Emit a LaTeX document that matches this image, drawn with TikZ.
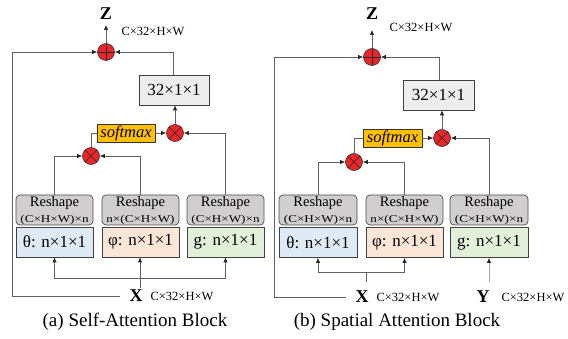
\documentclass[tikz,border=0pt]{standalone}
\usepackage{fontspec}
\setmainfont{Liberation Serif}
\usetikzlibrary{arrows.meta}
\definecolor{cred}{HTML}{E8262A}
\definecolor{csmx}{HTML}{FFC000}
\definecolor{cth}{HTML}{DEEBF7}
\definecolor{cph}{HTML}{FBE5D6}
\definecolor{cg}{HTML}{E2F0D9}
\definecolor{crs}{HTML}{D0CECE}
\definecolor{cbx}{HTML}{EDEDED}
\tikzset{
  ln/.style={draw=black!62, line width=0.7pt},
  arr/.style={ln, -{Latex[length=5pt,width=4.5pt,color=black!85]}},
  opc/.style={circle, draw=black!80, fill=cred, minimum size=17pt, inner sep=0pt, line width=0.6pt},
  plusop/.style={opc, path picture={\draw[black!85,line width=0.6pt] (path picture bounding box.north)--(path picture bounding box.south) (path picture bounding box.west)--(path picture bounding box.east);}},
  timesop/.style={opc, path picture={\draw[black!85,line width=0.6pt] (path picture bounding box.north west)--(path picture bounding box.south east) (path picture bounding box.south west)--(path picture bounding box.north east);}},
  bxbox/.style={draw=black!75, fill=cbx, minimum width=70pt, minimum height=30pt, inner sep=0pt, line width=0.7pt, font=\fontsize{17}{17}\selectfont},
  smxbox/.style={draw=black!80, fill=csmx, minimum width=58pt, minimum height=18pt, inner sep=0pt, line width=0.6pt, font=\fontsize{16.5}{16.5}\selectfont\itshape},
  rsbox/.style={draw=black!70, fill=crs, rounded corners=4pt, minimum width=77pt, minimum height=30pt, inner sep=0pt, line width=0.7pt},
  rstop/.style={inner sep=0pt, font=\fontsize{14.5}{14.5}\selectfont},
  rssub/.style={inner sep=0pt, font=\fontsize{10.5}{10.5}\selectfont},
  lowbox/.style={draw=black!75, minimum width=77pt, minimum height=30pt, inner sep=0pt, line width=0.7pt, font=\fontsize{17}{17}\selectfont},
  varlbl/.style={inner sep=1pt, font=\fontsize{18}{18}\selectfont\bfseries},
  dimlbl/.style={inner sep=0pt, font=\fontsize{12.5}{13}\selectfont},
  caplbl/.style={inner sep=0pt, font=\fontsize{19}{19}\selectfont}
}
\newcommand{\subA}{\scalebox{1.25}[1]{(C×H×W)×n}}
\newcommand{\subB}{\scalebox{1.25}[1]{n×(C×H×W)}}
\begin{document}
\begin{tikzpicture}[x=1pt,y=-1pt]
\useasboundingbox (0,0) rectangle (568,339);
% ================= panel (a) =================
\node[varlbl] (Za) at (106,14) {Z};
\node[dimlbl] (dZa) at (153,31) {C×32×H×W};
\node[plusop] (pa) at (106,52) {};
\node[bxbox] (ba) at (174,90) {32×1×1};
\node[smxbox] (sa) at (126,133) {softmax};
\node[timesop] (c2a) at (175,133) {};
\node[timesop] (c1a) at (91,156) {};
\node[rsbox] (r1a) at (54.5,210) {};
\node[rsbox] (r2a) at (140.5,210) {};
\node[rsbox] (r3a) at (225.5,210) {};
\node[rstop] (r1at) at (54.5,203.5) {Reshape};
\node[rstop] (r2at) at (140.5,203.5) {Reshape};
\node[rstop] (r3at) at (225.5,203.5) {Reshape};
\node[rssub] (r1as) at (54.5,219.5) {\subA};
\node[rssub] (r2as) at (140.5,219.5) {\subB};
\node[rssub] (r3as) at (225.5,219.5) {\subA};
\node[lowbox, fill=cth] (t1a) at (54.5,242) {θ: n×1×1};
\node[lowbox, fill=cph] (t2a) at (140.5,242) {φ: n×1×1};
\node[lowbox, fill=cg] (t3a) at (225.5,242) {g: n×1×1};
\node[varlbl] (Xa) at (136,296) {X};
\node[dimlbl] (dXa) at (182,296) {C×32×H×W};
\node[caplbl] (capa) at (135,322) {(a) Self-Attention Block};
\coordinate (zta) at (106,25);
\coordinate (fba) at (12,296);
\coordinate (fea) at (120,296);
\coordinate (hba) at (140,278);
\coordinate (vxa) at (140,288);
\draw[arr] (pa.north) -- (zta);
\draw[arr] (ba.north -| 173,0) |- (pa.east);
\draw[arr] (fea) -- (fba) |- (pa.west);
\draw[arr] (c2a.north) -- (c2a.north |- ba.south);
\draw[arr] (sa.east) -- (c2a.west);
\draw[ln] (sa.west) -| (c1a.north);
\draw[arr] (r1a.north) |- (c1a.west);
\draw[arr] (r2a.north) |- (c1a.east);
\draw[arr] (r3a.north) |- (c2a.east);
\draw[arr] (hba) -| (t1a.south);
\draw[arr] (hba) -| (t3a.south);
\draw[arr] (vxa) -- (vxa |- t2a.south);
% ================= panel (b) =================
\node[varlbl] (Zb) at (372,14) {Z};
\node[dimlbl] (dZb) at (421,27) {C×32×H×W};
\node[plusop] (pb) at (372,57) {};
\node[bxbox, minimum width=71pt] (bb) at (438.5,95) {32×1×1};
\node[smxbox, minimum width=59pt] (sb) at (392.5,138) {softmax};
\node[timesop] (c2b) at (442,138) {};
\node[timesop] (c1b) at (354,162) {};
\node[rsbox, minimum width=78pt] (r1b) at (318,210) {};
\node[rsbox] (r2b) at (404.5,210) {};
\node[rsbox, minimum width=78pt] (r3b) at (489,210) {};
\node[rstop] (r1bt) at (318,203.5) {Reshape};
\node[rstop] (r2bt) at (404.5,203.5) {Reshape};
\node[rstop] (r3bt) at (489,203.5) {Reshape};
\node[rssub] (r1bs) at (318,219.5) {\subA};
\node[rssub] (r2bs) at (404.5,219.5) {\subB};
\node[rssub] (r3bs) at (489,219.5) {\subA};
\node[lowbox, minimum width=78pt, fill=cth] (t1b) at (318,242.5) {θ: n×1×1};
\node[lowbox, fill=cph] (t2b) at (404.5,242.5) {φ: n×1×1};
\node[lowbox, minimum width=78pt, fill=cg] (t3b) at (489,242.5) {g: n×1×1};
\node[varlbl] (Xb) at (362,297) {X};
\node[dimlbl] (dXb) at (408,297) {C×32×H×W};
\node[varlbl] (Yb) at (483,297) {Y};
\node[dimlbl] (dYb) at (533,297) {C×32×H×W};
\node[caplbl] (capb) at (397,322) {(b) Spatial Attention Block};
\coordinate (ztb) at (372,30);
\coordinate (fbb) at (274,297);
\coordinate (feb) at (346,297);
\coordinate (hbb) at (366,272);
\coordinate (vxb) at (366,282);
\coordinate (vyb) at (489,282);
\draw[arr] (pb.north) -- (ztb);
\draw[arr] (bb.north -| 439,0) |- (pb.east);
\draw[arr] (feb) -- (fbb) |- (pb.west);
\draw[arr] (c2b.north) -- (c2b.north |- bb.south);
\draw[arr] (sb.east) -- (c2b.west);
\draw[ln] (sb.west) -| (c1b.north);
\draw[arr] (r1b.north) |- (c1b.west);
\draw[arr] (r2b.north) |- (c1b.east);
\draw[arr] (r3b.north) |- (c2b.east);
\draw[arr] (hbb) -| (t1b.south);
\draw[arr] (hbb) -| (t2b.south);
\draw[ln] (vxb) -- (hbb);
\draw[arr, draw=black!35] (vyb) -- (t3b.south);
\end{tikzpicture}
\end{document}
